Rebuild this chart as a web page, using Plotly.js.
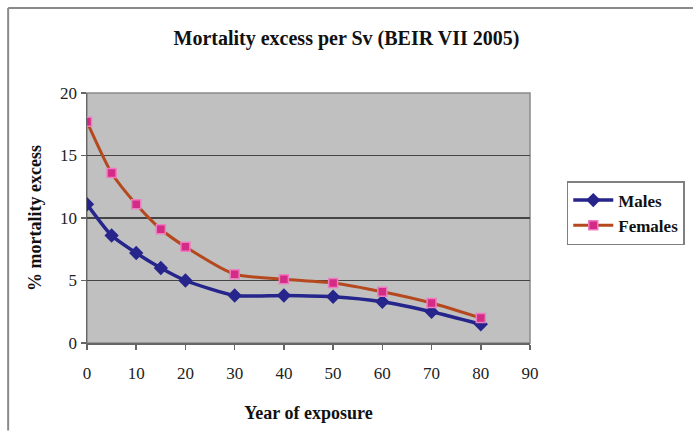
<!DOCTYPE html>
<html>
<head>
<meta charset="utf-8">
<script src="https://cdn.plot.ly/plotly-3.0.1.min.js"></script>
<style>
html,body{margin:0;padding:0;background:#fff;}
#chart{width:693px;height:437px;}
</style>
</head>
<body>
<div id="chart"></div>
<script>
const years = [0, 5, 10, 15, 20, 30, 40, 50, 60, 70, 80];
const males = [11.1, 8.6, 7.2, 6.0, 5.0, 3.8, 3.8, 3.7, 3.3, 2.5, 1.5];
const females = [17.7, 13.6, 11.1, 9.1, 7.7, 5.5, 5.1, 4.8, 4.1, 3.2, 2.0];
const xTicks = [0, 10, 20, 30, 40, 50, 60, 70, 80, 90];
const yTicks = [0, 5, 10, 15, 20];
const seriesNames = ['Males', 'Females'];

const serif = '"Liberation Serif", "Times New Roman", serif';

const traces = [
  {
    x: years, y: males, name: '<b>' + seriesNames[0] + '</b>', type: 'scatter', mode: 'lines+markers',
    line: {color: '#25258C', width: 3.5, shape: 'spline', smoothing: 0.6},
    marker: {symbol: 'diamond', size: 11, color: '#25258C'}
  },
  {
    x: years, y: females, name: '<b>' + seriesNames[1] + '</b>', type: 'scatter', mode: 'lines+markers',
    line: {color: '#B5481E', width: 3, shape: 'spline', smoothing: 0.6},
    marker: {symbol: 'square', size: 9, color: '#D42C86', line: {color: '#EE7CC0', width: 1.5}}
  }
];

const layout = {
  width: 693, height: 437,
  paper_bgcolor: '#ffffff',
  plot_bgcolor: '#C0C0C0',
  margin: {l: 87, r: 163, t: 93, b: 94, autoexpand: false},
  font: {family: serif, color: '#111', size: 17},
  title: {
    text: '<b>Mortality excess per Sv (BEIR VII 2005)</b>',
    font: {family: serif, size: 20, color: '#111'},
    x: 0.5, xref: 'container', y: 0.93, yref: 'container'
  },
  xaxis: {
    range: [0, 90], tickvals: xTicks, ticktext: xTicks.map(String),
    showgrid: false, zeroline: false,
    showline: true, linecolor: '#666', linewidth: 1.5,
    ticks: 'outside', ticklen: 5, tickcolor: '#666', tickwidth: 1.5,
    ticklabelstandoff: 9,
    tickfont: {family: serif, size: 17, color: '#222'},
    title: {text: '<b>Year of exposure</b>', font: {family: serif, size: 18, color: '#111'}, standoff: 24},
    fixedrange: true
  },
  yaxis: {
    range: [0, 20], tickvals: yTicks, ticktext: yTicks.map(String),
    showgrid: true, gridcolor: '#444444', gridwidth: 1.7,
    zeroline: false,
    showline: true, linecolor: '#666', linewidth: 1.5,
    ticks: 'outside', ticklen: 5, tickcolor: '#666', tickwidth: 1.5,
    tickfont: {family: serif, size: 17, color: '#222'},
    title: {text: '<b>% mortality excess</b>', font: {family: serif, size: 18, color: '#111'}, standoff: 14},
    fixedrange: true
  },
  legend: {
    x: 1.083, xanchor: 'left', y: 0.648, yanchor: 'top',
    bgcolor: '#ffffff', bordercolor: '#808080', borderwidth: 1.5,
    font: {family: serif, size: 17, color: '#111'},
    itemwidth: 40,
    tracegroupgap: 11
  },
  shapes: [
    {type: 'rect', xref: 'paper', yref: 'paper', x0: 0, x1: 1, y0: 0, y1: 1,
     line: {color: '#8a8a8a', width: 1.5}, fillcolor: 'rgba(0,0,0,0)', layer: 'below'},
    {type: 'line', xref: 'paper', yref: 'paper', x0: -0.178, x1: 1.37, y0: 1.34, y1: 1.34,
     line: {color: '#8a8a8a', width: 2}},
    {type: 'line', xref: 'paper', yref: 'paper', x0: -0.178, x1: -0.178, y0: -0.35, y1: 1.34,
     line: {color: '#8a8a8a', width: 2}}
  ]
};

Plotly.newPlot('chart', traces, layout, {displayModeBar: false, staticPlot: true});
</script>
</body>
</html>
